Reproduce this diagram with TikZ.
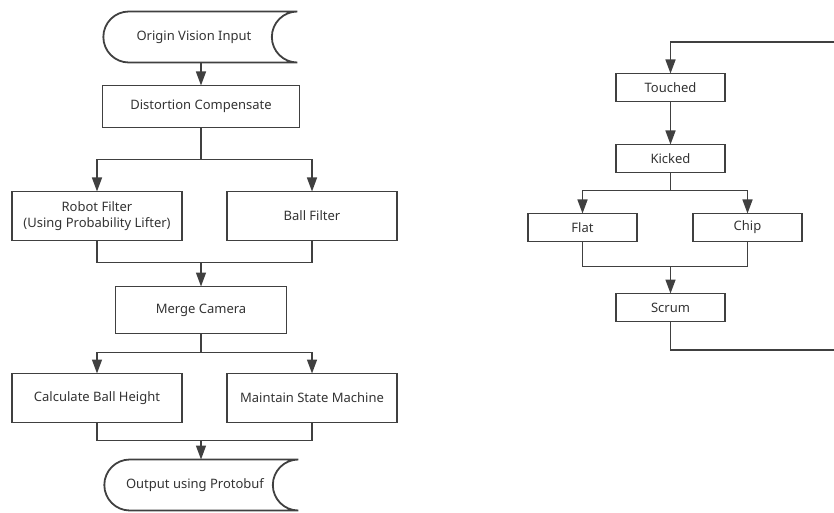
\documentclass[tikz,border=0pt]{standalone}
\usepackage{fontspec}
\setmainfont{Noto Sans}
\usetikzlibrary{
  positioning,
  shapes.misc,
  arrows.meta,
  calc
}

\begin{document}
\begin{tikzpicture}[x=1pt, y=1pt, node distance=23pt and 45pt,
  every node/.style={font=\fontsize{13}{15.5}\selectfont, text=black!80},
  block/.style={draw=black!75, line width=1.8pt, minimum width=170pt, minimum height=49pt, align=center, inner sep=0pt, outer sep=0pt},
  wide/.style={block, minimum width=197pt, minimum height=42pt},
  state/.style={block, minimum width=109pt, minimum height=28pt},
  terminal/.style={draw=black!75, line width=1.8pt, rounded rectangle, rounded rectangle right arc=concave, minimum width=194pt, minimum height=51pt, inner sep=0pt, outer sep=0pt, execute at begin node=\hspace*{12pt}},
  link/.style={draw=black!75, line width=1.5pt},
  arrow/.style={link, -{Triangle[width=10pt, length=14pt]}}
]
\useasboundingbox (0,0) rectangle (834,512);

% Vision pipeline
\node[terminal] (origin) at (188,475) {Origin Vision Input};
\node[wide, below=23pt of origin, xshift=13pt] (dist) {Distortion Compensate};
\node[block, below=64pt of dist, xshift=-104pt] (robot) {Robot Filter\\(Using Probability Lifter)};
\node[block, right=of robot] (ball) {Ball Filter};
\node[block, minimum width=171pt, minimum height=47pt, below=159pt of dist] (merge) {Merge Camera};
\node[block, below=40pt of merge, xshift=-104pt] (height) {Calculate Ball Height};
\node[block, right=of height] (machine) {Maintain State Machine};
\node[terminal, below=126pt of merge, xshift=-12pt] (output) {Output using Protobuf};

% Kick state machine
\node[state] (touched) at (670.5,424.5) {Touched};
\node[state, below=43pt of touched] (kicked) {Kicked};
\node[state, below=41pt of kicked, xshift=-88pt] (flat) {Flat};
\node[state, right=56pt of flat] (chip) {Chip};
\node[state, below=121pt of kicked] (scrum) {Scrum};

% Junctions
\coordinate (j1) at ($(robot.south)+(0,-22)$);
\coordinate (j2) at ($(height.south)+(0,-18)$);
\coordinate (j3) at ($(flat.south)+(0,-25)$);
\coordinate (loopbottom) at (838,162);
\coordinate (looptop) at (838,470);

% Arrows
\draw[arrow] (origin.south -| dist.north) -- (dist.north);
\draw[arrow] (dist.south) -- ++(0,-32) -| (robot.north);
\draw[arrow] (dist.south) -- ++(0,-32) -| (ball.north);
\path[link] (robot.south) |- (j1) -| (ball.south);
\draw[arrow] (j1 -| merge.north) -- (merge.north);
\draw[arrow] (merge.south) -- ++(0,-19) -| (height.north);
\draw[arrow] (merge.south) -- ++(0,-19) -| (machine.north);
\path[link] (height.south) |- (j2) -| (machine.south);
\draw[arrow] (j2 -| merge.south) -- (output.north -| merge.south);

\draw[arrow] (touched) -- (kicked);
\draw[arrow] (kicked.south) -- ++(0,-18) -| (flat.north);
\draw[arrow] (kicked.south) -- ++(0,-18) -| (chip.north);
\path[link] (flat.south) |- (j3) -| (chip.south);
\draw[arrow] (j3 -| scrum.north) -- (scrum.north);
\draw[arrow] (scrum.south) |- (loopbottom) -- (looptop) -| (touched.north);

\end{tikzpicture}
\end{document}
